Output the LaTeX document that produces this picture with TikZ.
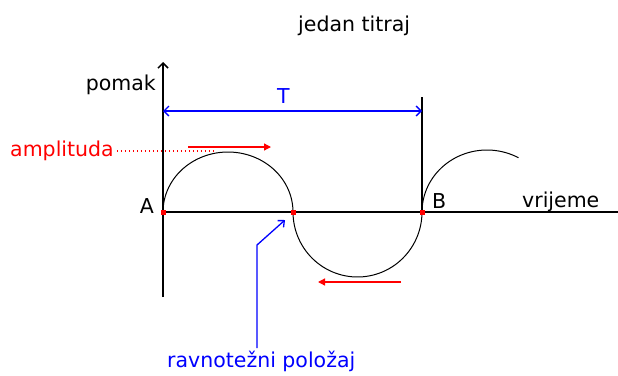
\documentclass[tikz,border=0pt]{standalone}
\usepackage{fontspec}
\setmainfont{DejaVu Sans}
\usetikzlibrary{arrows.meta}
\tikzset{
  lbl/.style={inner sep=0pt, font=\fontsize{20.5}{24}\selectfont},
  axis/.style={line width=1.5pt, black},
  wave/.style={line width=1pt, black},
  period/.style={line width=1.3pt, blue, {Straight Barb[length=5pt,width=10pt]}-{Straight Barb[length=5pt,width=10pt]}},
  redarrow/.style={line width=1.3pt, red, -{Triangle[length=7pt,width=7pt]}},
  pointer/.style={line width=1.3pt, blue, -{Straight Barb[length=5pt,width=9pt]}},
  reddot/.style={fill=red, draw=none, minimum size=5pt, inner sep=0pt},
  amptrace/.style={red, line width=1.2pt, dash pattern=on 1.3pt off 2.7pt},
}
\begin{document}
\begin{tikzpicture}[x=1pt,y=-1pt]
\useasboundingbox (0,0) rectangle (618,375);
% key points
\coordinate (A) at (163,212);
\coordinate (M) at (293,212);
\coordinate (B) at (422,212);
\coordinate (ytop) at (163,62);
\coordinate (ybot) at (163,297);
\coordinate (xend) at (618,212);
\coordinate (Btop) at (422,97);
\coordinate (Tl) at (163,111);
\coordinate (Tr) at (422,111);
% axes
\draw[axis] (A) -- (xend);
\draw[axis, -{Straight Barb[length=5pt,width=10pt]}] (ybot) -- (ytop);
\draw[axis] (B) -- (Btop);
% wave
\draw[wave] plot[domain=0:180, samples=60] ({228-65*cos(\x)},{212-60*sin(\x)});
\draw[wave] plot[domain=0:180, samples=60] ({357.5-64.5*cos(\x)},{212+65*sin(\x)});
\draw[wave] plot[domain=0:119, samples=40] ({487-65*cos(\x)},{212-62*sin(\x)});
% dots
\node[reddot] (dA) at (A) {};
\node[reddot] (dM) at (M) {};
\node[reddot] (dB) at (B) {};
% period arrow
\draw[period] (Tl) -- (Tr);
% labels
\node[lbl, anchor=base west] (title) at (298,31) {jedan titraj};
\node[lbl, anchor=base east] (pomak) at (156,90) {pomak};
\node[lbl, anchor=base west, text=blue] (T) at (277,103) {T};
\node[lbl, anchor=base west, text=red] (amp) at (10,156) {amplituda};
\node[lbl, anchor=base east] (lA) at (154,213) {A};
\node[lbl, anchor=base west] (lB) at (432,208) {B};
\node[lbl, anchor=base west] (vr) at (522,207) {vrijeme};
\node[lbl, anchor=base west, text=blue] (rp) at (167,367) {ravnotežni položaj};
% amplitude dotted line and red arrows
\coordinate (ampend) at (214,151);
\draw[amptrace] (amp.east |- ampend) ++(3,0) -- (ampend);
\coordinate (r1s) at (188,147);
\coordinate (r1e) at (271,147);
\draw[redarrow] (r1s) -- (r1e);
\coordinate (r2s) at (401,282);
\coordinate (r2e) at (318,282);
\draw[redarrow] (r2s) -- (r2e);
% pointer to equilibrium
\coordinate (p1) at (257,348);
\coordinate (p2) at (257,245);
\coordinate (p3) at (285,220);
\draw[pointer] (p1) -- (p2) -- (p3);
\end{tikzpicture}
\end{document}
